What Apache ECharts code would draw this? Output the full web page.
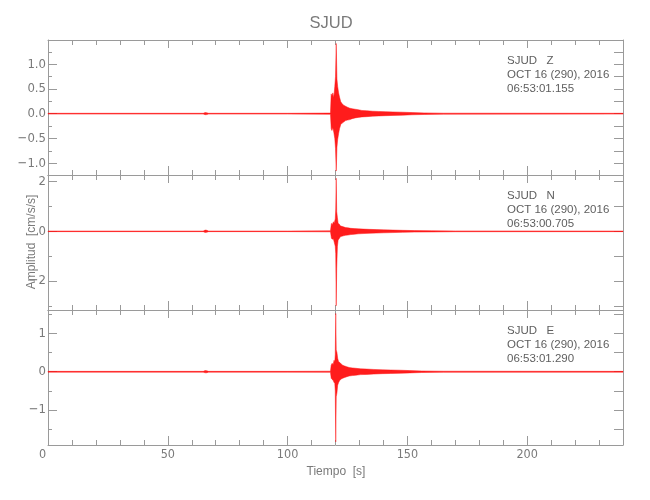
<!DOCTYPE html>
<html><head><meta charset="utf-8">
<script src="https://cdn.jsdelivr.net/npm/echarts@6/dist/echarts.min.js"></script>
<style>html,body{margin:0;padding:0;background:#fff}#c{width:650px;height:500px}</style>
</head><body><div id="c"></div>
<script>
// ---------- data ----------
const station = 'SJUD';
const components = ['Z', 'N', 'E'];
const dateLine = 'OCT 16 (290), 2016';
const startTimes = ['06:53:01.155', '06:53:00.705', '06:53:01.290'];
const xTitle = 'Tiempo  [s]';
const yTitle = 'Amplitud  [cm/s/s]';

const xMajorTicks = [0, 50, 100, 150, 200];
const xMinorTicks = [10, 20, 30, 40, 60, 70, 80, 90, 110, 120, 130, 140, 160, 170, 180, 190, 210, 220, 230];

const yRangeZ = [-1.24, 1.49];
const yRangeN = [-3.17, 2.27];
const yRangeE = [-1.91, 1.61];
const yMajorZ = [-1, -0.5, 0, 0.5, 1];
const yLabelsZ = ['\u22121.0', '\u22120.5', '0.0', '0.5', '1.0'];
const yMinorZ = [-0.75, -0.25, 0.25, 0.75, 1.25];
const yMajorN = [-2, 0, 2];
const yLabelsN = ['\u22122', '0', '2'];
const yMinorN = [-3, -1, 1];
const yMajorE = [-1, 0, 1];
const yLabelsE = ['\u22121', '0', '1'];
const yMinorE = [-1.5, -0.5, 0.5, 1.5];

// envelope of the traces (upper / lower amplitude read from the record), time in s
const zT  = [0, 30, 64.8, 65.6, 66.3, 67.0, 100, 117.9, 118.2, 118.5, 118.9, 119.3, 119.7, 120.0, 120.3, 120.6, 120.9, 121.3, 121.7, 122.2, 122.8, 123.4, 124.2, 125.0, 126.0, 127.0, 128.2, 129.5, 131, 133, 135.5, 138, 141, 144, 148, 152, 157, 165, 240];
const zHi = [.008, .008, .008, .022, .018, .008, .008, .012, .40, .35, .42, .32, .55, .75, 1.42, .70, .55, .42, .33, .24, .20, .17, .15, .13, .11, .10, .09, .08, .065, .06, .05, .045, .04, .035, .03, .022, .016, .01, .008];
const zLo = [-.008, -.008, -.008, -.02, -.018, -.008, -.008, -.012, -.30, -.34, -.28, -.38, -.50, -.70, -1.16, -.68, -.52, -.40, -.30, -.22, -.19, -.17, -.14, -.13, -.12, -.10, -.085, -.075, -.065, -.06, -.05, -.045, -.04, -.035, -.03, -.022, -.016, -.01, -.008];

const nT  = [0, 30, 64.8, 65.6, 66.3, 67.0, 100, 117.9, 118.3, 118.7, 119.1, 119.5, 119.9, 120.1, 120.3, 120.5, 120.8, 121.1, 121.5, 122.0, 122.6, 123.3, 124.2, 125.2, 126.4, 127.8, 129.5, 131.5, 134, 137, 140, 144, 148, 153, 160, 170, 240];
const nHi = [.012, .012, .012, .05, .04, .012, .012, .02, .32, .28, .38, .35, .50, .90, 2.14, .80, .55, .32, .30, .22, .20, .18, .15, .14, .12, .11, .10, .09, .08, .07, .06, .05, .04, .03, .025, .016, .012];
const nLo = [-.012, -.012, -.012, -.045, -.035, -.012, -.012, -.02, -.28, -.32, -.30, -.45, -.60, -.90, -3.0, -1.49, -.60, -.35, -.30, -.22, -.20, -.18, -.16, -.15, -.13, -.12, -.10, -.09, -.08, -.07, -.06, -.05, -.04, -.03, -.025, -.016, -.012];

const eT  = [0, 30, 64.8, 65.6, 66.3, 67.0, 100, 117.9, 118.2, 118.6, 119.0, 119.4, 119.7, 119.9, 120.1, 120.3, 120.6, 120.9, 121.3, 121.8, 122.4, 123.0, 123.8, 124.7, 125.7, 127.0, 128.5, 130.5, 133, 136, 139.5, 143, 147, 151, 156, 165, 240];
const eHi = [.01, .01, .01, .03, .025, .01, .01, .015, .17, .22, .18, .30, .25, .45, 1.52, .57, .50, .35, .26, .24, .20, .17, .15, .13, .11, .10, .09, .075, .07, .06, .05, .045, .04, .03, .02, .014, .01];
const eLo = [-.01, -.01, -.01, -.028, -.025, -.01, -.01, -.015, -.17, -.20, -.22, -.28, -.30, -.50, -1.83, -.65, -.55, -.35, -.28, -.22, -.19, -.17, -.15, -.13, -.11, -.10, -.09, -.075, -.07, -.06, -.05, -.045, -.04, -.03, -.02, -.014, -.01];

// ---------- chart ----------
const panels = [
  {range: yRangeZ, major: yMajorZ, labels: yLabelsZ, minor: yMinorZ, T: zT, HI: zHi, LO: zLo},
  {range: yRangeN, major: yMajorN, labels: yLabelsN, minor: yMinorN, T: nT, HI: nHi, LO: nLo},
  {range: yRangeE, major: yMajorE, labels: yLabelsE, minor: yMinorE, T: eT, HI: eHi, LO: eLo}
];
const L = 48, R = 27, TOPS = [40, 175, 310], H = 135;
const axisGray = '#9a9a9a', labelGray = '#7a7a7a', textGray = '#5e5e5e';
const sans = "'Liberation Sans', Arial, sans-serif";
const narrow = "'Liberation Sans Narrow', 'DejaVu Sans Condensed', 'Liberation Sans', sans-serif";

const grid = [], xAxis = [], yAxis = [], series = [], graphic = [];
const lineStyle = {color: axisGray, width: 1};

panels.forEach((p, g) => {
  grid.push({left: L, right: R, top: TOPS[g], height: H});
  const showX = g === 2;
  const xBase = {type: 'value', gridIndex: g, min: 0, max: 240, splitLine: {show: false}};
  xAxis.push(Object.assign({}, xBase, {
    position: 'bottom',
    axisLine: {onZero: false, lineStyle},
    axisTick: {inside: true, length: 9, lineStyle, customValues: xMajorTicks},
    axisLabel: {show: showX, customValues: xMajorTicks, margin: 3, color: labelGray,
      fontFamily: narrow, fontSize: 12.5,
      formatter: v => v === 0 ? '{z|0}' : String(v),
      rich: {z: {padding: [0, 11, 0, 0], fontFamily: narrow, fontSize: 12.5, color: labelGray}}}
  }));
  xAxis.push(Object.assign({}, xBase, {
    position: 'bottom', axisLine: {onZero: false, show: false},
    axisTick: {inside: true, length: 5, lineStyle, customValues: xMinorTicks},
    axisLabel: {show: false}
  }));
  xAxis.push(Object.assign({}, xBase, {
    position: 'top', axisLine: {onZero: false, lineStyle},
    axisTick: {inside: true, length: 8, lineStyle, customValues: xMajorTicks},
    axisLabel: {show: false}
  }));
  xAxis.push(Object.assign({}, xBase, {
    position: 'top', axisLine: {onZero: false, show: false},
    axisTick: {inside: true, length: 5, lineStyle, customValues: xMinorTicks},
    axisLabel: {show: false}
  }));

  const yBase = {type: 'value', gridIndex: g, min: p.range[0], max: p.range[1], splitLine: {show: false}};
  yAxis.push(Object.assign({}, yBase, {
    position: 'left', axisLine: {onZero: false, lineStyle},
    axisTick: {inside: true, length: 9, lineStyle, customValues: p.major},
    axisLabel: {customValues: p.major, margin: 2, color: labelGray, fontFamily: narrow, fontSize: 13,
      formatter: v => { const i = p.major.findIndex(m => Math.abs(m - v) < 1e-9); return i >= 0 ? p.labels[i] : ''; }}
  }));
  yAxis.push(Object.assign({}, yBase, {
    position: 'left', axisLine: {onZero: false, show: false},
    axisTick: {inside: true, length: 4, lineStyle, customValues: p.minor},
    axisLabel: {show: false}
  }));
  yAxis.push(Object.assign({}, yBase, {
    position: 'right', axisLine: {onZero: false, lineStyle},
    axisTick: {inside: true, length: 9, lineStyle, customValues: p.major.concat(p.minor)},
    axisLabel: {show: false}
  }));

  series.push({
    type: 'custom', xAxisIndex: g * 4, yAxisIndex: g * 3, silent: true, animation: false,
    data: [[p.T[0], 0]], z: 1,
    renderItem: (params, api) => {
      const pts = [];
      for (let i = 0; i < p.T.length; i++) pts.push(api.coord([p.T[i], p.HI[i]]));
      for (let i = p.T.length - 1; i >= 0; i--) pts.push(api.coord([p.T[i], p.LO[i]]));
      return {type: 'polygon', shape: {points: pts},
        style: {fill: '#ff1010', stroke: '#ff1010', lineWidth: 0.5, opacity: 0.95}};
    }
  });

  const lines = [station + '   ' + components[g], dateLine, startTimes[g]];
  lines.forEach((t, k) => {
    graphic.push({type: 'text', left: 507, top: TOPS[g] + 15 + k * 14, silent: true,
      style: {text: t, fill: textGray, font: '11.5px ' + sans}});
  });
});

graphic.push({type: 'text', x: 331, y: 23, silent: true,
  style: {text: station, fill: labelGray, font: '16.5px ' + sans, textAlign: 'center', textVerticalAlign: 'middle'}});
graphic.push({type: 'text', x: 336, y: 472, silent: true,
  style: {text: xTitle, fill: labelGray, font: '12px ' + sans, textAlign: 'center', textVerticalAlign: 'middle'}});
graphic.push({type: 'text', x: 31.5, y: 242, rotation: Math.PI / 2, silent: true,
  style: {text: yTitle, fill: labelGray, font: '12px ' + sans, textAlign: 'center', textVerticalAlign: 'middle'}});

const chart = echarts.init(document.getElementById('c'), null, {renderer: 'canvas'});
chart.setOption({backgroundColor: '#ffffff', animation: false, grid, xAxis, yAxis, series, graphic});
</script></body></html>
